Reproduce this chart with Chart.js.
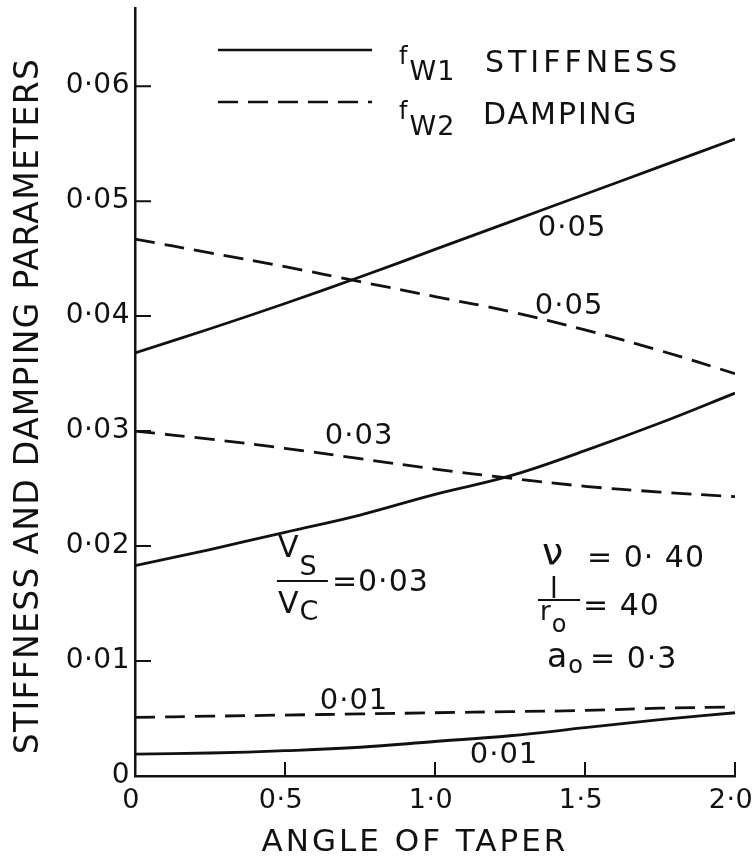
<!DOCTYPE html>
<html>
<head>
<meta charset="utf-8">
<script src="https://cdn.jsdelivr.net/npm/chart.js@4.4.1/dist/chart.umd.min.js"></script>
<style>
  html, body { margin: 0; padding: 0; background: #fff; }
  #wrap { width: 755px; height: 860px; }
</style>
</head>
<body>
<div id="wrap"><canvas id="myChart"></canvas></div>
<script>
const angles = [0, 0.25, 0.5, 0.75, 1.0, 1.25, 1.5, 1.75, 2.0];
const stiff005 = [0.0368, 0.0389, 0.0411, 0.0434, 0.0458, 0.0482, 0.0506, 0.0530, 0.0554];
const damp005 = [0.0467, 0.0455, 0.0443, 0.0430, 0.0417, 0.0404, 0.0388, 0.0370, 0.0350];
const stiff003 = [0.0183, 0.0197, 0.0212, 0.0227, 0.0245, 0.0261, 0.0283, 0.0307, 0.0333];
const damp003 = [0.0300, 0.0293, 0.0285, 0.0276, 0.0267, 0.0259, 0.0252, 0.0247, 0.0243];
const stiff001 = [0.0019, 0.0020, 0.0022, 0.0025, 0.0030, 0.0035, 0.0042, 0.0049, 0.0055];
const damp001 = [0.0051, 0.0052, 0.0053, 0.0054, 0.0055, 0.0056, 0.0057, 0.0059, 0.0060];

const xTickValues = [0, 0.5, 1.0, 1.5, 2.0];
const xTickLabels = ['0', '0·5', '1·0', '1·5', '2·0'];
const yTickValues = [0, 0.01, 0.02, 0.03, 0.04, 0.05, 0.06];
const yTickLabels = ['0', '0·01', '0·02', '0·03', '0·04', '0·05', '0·06'];

// curve labels, placed in data units
const curveLabels = [
  { x: 1.457, y: 0.04765, text: '0·05' },
  { x: 1.447, y: 0.0408, text: '0·05' },
  { x: 0.747, y: 0.0295, text: '0·03' },
  { x: 0.73, y: 0.0065, text: '0·01' },
  { x: 1.23, y: 0.0018, text: '0·01' }
];

const FONT = '"DejaVu Sans"';
const INK = '#111';

function pts(arr) {
  return angles.map((a, i) => ({ x: a, y: arr[i] }));
}

function solid(arr) {
  return { data: pts(arr), borderColor: INK, borderWidth: 2.8, pointRadius: 0, tension: 0.4, fill: false };
}
function dashed(arr) {
  return { data: pts(arr), borderColor: INK, borderWidth: 2.8, borderDash: [20, 10], pointRadius: 0, tension: 0.4, fill: false };
}

// draw a sequence of text runs (for subscripts), left aligned on a baseline
function runs(ctx, x, y, parts) {
  let cx = x;
  parts.forEach(p => {
    ctx.font = p.size + 'px ' + FONT;
    ctx.fillText(p.t, cx + (p.dx || 0), y + (p.dy || 0));
    cx += ctx.measureText(p.t).width + (p.dx || 0);
  });
}

const paper = {
  id: 'paper',
  beforeDraw(chart) {
    const ctx = chart.ctx;
    ctx.save();
    ctx.fillStyle = '#fff';
    ctx.fillRect(0, 0, chart.width, chart.height);
    ctx.restore();
    ctx.letterSpacing = '0.5px';
  },
  afterDraw(chart) {
    const ctx = chart.ctx;
    const xs = chart.scales.x, ys = chart.scales.y;
    ctx.save();
    ctx.strokeStyle = INK;
    ctx.fillStyle = INK;

    // inward tick marks
    ctx.lineWidth = 2;
    ctx.beginPath();
    yTickValues.slice(1).forEach(v => {
      const py = ys.getPixelForValue(v);
      ctx.moveTo(xs.left, py);
      ctx.lineTo(xs.left + 16, py);
    });
    xTickValues.slice(1).forEach(v => {
      const px = xs.getPixelForValue(v);
      ctx.moveTo(px, ys.bottom);
      ctx.lineTo(px, ys.bottom - 14);
    });
    ctx.stroke();

    // axis titles
    ctx.textBaseline = 'middle';
    ctx.textAlign = 'center';
    ctx.letterSpacing = '3px';
    ctx.font = '31px ' + FONT;
    ctx.fillText('ANGLE OF TAPER', 415, 843);
    ctx.save();
    ctx.translate(29, 406);
    ctx.rotate(-Math.PI / 2);
    ctx.letterSpacing = '1.3px';
    ctx.font = '33px ' + FONT;
    ctx.fillText('STIFFNESS AND DAMPING PARAMETERS', 0, 0);
    ctx.restore();

    // legend
    ctx.lineWidth = 2.5;
    ctx.beginPath();
    ctx.moveTo(218, 50);
    ctx.lineTo(372, 50);
    ctx.stroke();
    ctx.setLineDash([20, 10]);
    ctx.beginPath();
    ctx.moveTo(218, 102);
    ctx.lineTo(372, 102);
    ctx.stroke();
    ctx.setLineDash([]);
    ctx.textAlign = 'left';
    ctx.textBaseline = 'alphabetic';
    ctx.letterSpacing = '1px';
    runs(ctx, 399, 64, [{ t: 'f', size: 24 }, { t: 'W1', size: 27, dy: 16, dx: 1 }]);
    runs(ctx, 399, 119, [{ t: 'f', size: 24 }, { t: 'W2', size: 27, dy: 16, dx: 1 }]);
    ctx.font = '30px ' + FONT;
    ctx.letterSpacing = '4px';
    ctx.fillText('STIFFNESS', 485, 72);
    ctx.letterSpacing = '2px';
    ctx.fillText('DAMPING', 483, 124);

    // curve labels
    ctx.letterSpacing = '1px';
    ctx.textAlign = 'center';
    ctx.textBaseline = 'middle';
    ctx.font = '29px ' + FONT;
    curveLabels.forEach(l => {
      ctx.fillText(l.text, xs.getPixelForValue(l.x), ys.getPixelForValue(l.y));
    });

    // Vs / Vc = 0.03
    ctx.textAlign = 'left';
    ctx.textBaseline = 'alphabetic';
    let ax = xs.getPixelForValue(0.473), ay = ys.getPixelForValue(0.01696);
    runs(ctx, ax + 1, ay - 24, [{ t: 'V', size: 30 }, { t: 'S', size: 27, dy: 18 }]);
    runs(ctx, ax + 1, ay + 32, [{ t: 'V', size: 30 }, { t: 'C', size: 27, dy: 7 }]);
    ctx.lineWidth = 2;
    ctx.beginPath();
    ctx.moveTo(ax, ay);
    ctx.lineTo(ax + 51, ay);
    ctx.stroke();
    runs(ctx, ax + 55, ay + 10, [{ t: '=0·03', size: 30 }]);

    // nu, l/ro, ao
    ax = xs.getPixelForValue(1.35);
    ay = ys.getPixelForValue(0.0153);
    runs(ctx, ax + 2, ay - 35, [{ t: 'ν', size: 38 }]);
    runs(ctx, ax + 47, ay - 33, [{ t: '= 0· 40', size: 30 }]);
    runs(ctx, ax + 10, ay - 2, [{ t: 'l', size: 28 }]);
    ctx.beginPath();
    ctx.moveTo(ax - 2, ay);
    ctx.lineTo(ax + 40, ay);
    ctx.stroke();
    runs(ctx, ax, ay + 20, [{ t: 'r', size: 26 }, { t: 'o', size: 24, dy: 12 }]);
    runs(ctx, ax + 43, ay + 15, [{ t: '= 40', size: 30 }]);
    runs(ctx, ax + 7, ay + 67, [{ t: 'a', size: 33 }, { t: 'o', size: 24, dy: 6 }]);
    runs(ctx, ax + 50, ay + 68, [{ t: '= 0·3', size: 30 }]);

    ctx.restore();
  }
};

const data = {
  datasets: [
    solid(stiff005), dashed(damp005),
    solid(stiff003), dashed(damp003),
    solid(stiff001), dashed(damp001)
  ]
};

let myChart = new Chart(
  document.getElementById('myChart'),
  {
    type: 'line',
    data: data,
    plugins: [paper],
    options: {
      responsive: true,
      maintainAspectRatio: false,
      animation: false,
      layout: { padding: { top: 8, right: 20, bottom: 0, left: 0 } },
      plugins: {
        legend: { display: false },
        tooltip: { enabled: false }
      },
      scales: {
        x: {
          type: 'linear',
          min: 0,
          max: 2.0,
          afterBuildTicks: s => { s.ticks = xTickValues.map(v => ({ value: v })); },
          afterFit: s => { s.height = 84; s.paddingLeft = 0; s.paddingRight = 0; },
          grid: { display: false },
          border: { color: INK, width: 2.5 },
          ticks: {
            autoSkip: false,
            maxRotation: 0,
            padding: 1,
            labelOffset: -4,
            color: INK,
            font: { family: FONT, size: 27 },
            callback: (v, i) => xTickLabels[i]
          }
        },
        y: {
          min: 0,
          max: 0.0668,
          afterBuildTicks: s => { s.ticks = yTickValues.map(v => ({ value: v })); },
          afterFit: s => { s.width = 135; s.paddingTop = 0; s.paddingBottom = 0; },
          grid: { display: false },
          border: { color: INK, width: 2.5 },
          ticks: {
            padding: -3,
            color: INK,
            font: { family: FONT, size: 28 },
            callback: (v, i) => yTickLabels[i]
          }
        }
      }
    }
  }
);
</script>
</body>
</html>
